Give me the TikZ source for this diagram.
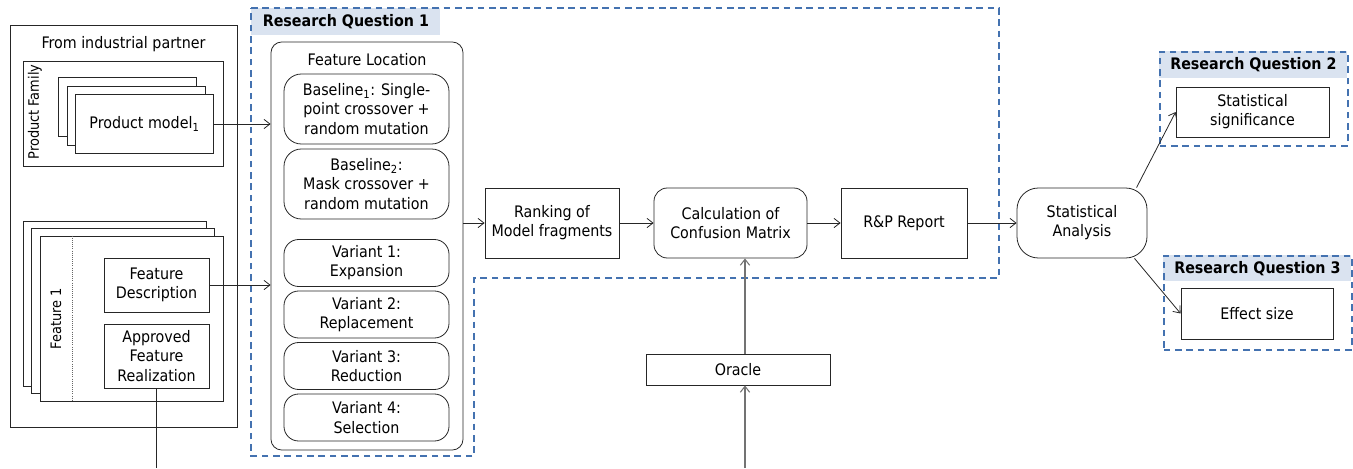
\documentclass[tikz,border=0pt]{standalone}
\usepackage{fontspec}
\setmainfont{DejaVu Sans Condensed}
\usetikzlibrary{arrows.meta}
\definecolor{rqblue}{RGB}{68,114,176}
\definecolor{rqfill}{RGB}{218,227,240}

\begin{document}
\begin{tikzpicture}[x=0.75pt,y=-0.75pt,
    font=\fontsize{11.9pt}{14.4pt}\selectfont,
    line width=0.6pt,
    sz/.style 2 args = {minimum width=#1*0.75pt,
        minimum height=#2*0.75pt},
    box/.style = {draw=black!85, fill=white, align=center,
        inner sep=1pt},
    rbox/.style = {box, rounded corners=#1},
    rbox/.default = 11pt,
    link/.style = {draw=black!85,
        -{Straight Barb[length=4.5pt,width=7pt]}},
    feed/.style = {link, draw=black!55, line width=0.8pt},
    rq/.style = {draw=rqblue, line width=1.2pt,
        dash pattern=on 5pt off 3.5pt},
    rqlabel/.style = {fill=rqfill, inner sep=0pt,
        font=\fontsize{11.9pt}{14pt}\selectfont\bfseries},
    sidetitle/.style = {rotate=90, inner sep=0pt}]

\useasboundingbox (0,0) rectangle (1353,468);

% From industrial partner
\node[box, sz={227}{402}] (partner) at (123.5,226) {};
\node (partnertitle) at (123.5,44) {From industrial partner};

% Product family
\node[box, sz={200}{105}] (family) at (123,113.5) {};
\node[sidetitle, font=\fontsize{10.8pt}{12pt}\selectfont] (familytitle) at (35,112)
    {Product Family};
\node[box, sz={138}{59}] (model3) at (127.5,107) {};
\node[box, sz={138}{59}] (model2) at (136,115.5) {};
\node[box, sz={138}{59}] (model1) at (144.5,124) {Product model\textsubscript{1}};

% Features
\node[box, sz={183}{165}] (feat3) at (115,304) {};
\node[box, sz={183}{165}] (feat2) at (123,311) {};
\node[box, sz={183}{165}] (feat1) at (131.5,318.5) {};
\draw[black!60, densely dotted]
    ([xshift=24.75pt]feat1.north west) -- ([xshift=24.75pt]feat1.south west);
\node[sidetitle, font=\fontsize{10.8pt}{12pt}\selectfont] (feattitle) at (56,318.5) {Feature 1};
\node[box, sz={105}{54}] (featdesc) at (156.5,285) {Feature\\Description};
\node[box, sz={105}{64}] (approved) at (156.5,356) {Approved\\Feature\\Realization};
\coordinate (approvedout) at (156.5,468);

% Research Question 1
\node[rqlabel, sz={189}{27}, anchor=north west] (rq1label) at (251,8) {Research Question 1};
\draw[rq] (251,8) -- (999,8) -- (999,278) -- (474,278) -- (474,456)
    -- (251,456) -- cycle;

% Feature location
\node[rbox=8pt, sz={192}{408}] (featloc) at (367,246) {};
\node (featloctitle) at (367,60) {Feature Location};
\node[rbox=13pt, sz={165}{70}] (base1) at (366.5,109)
    {Baseline\textsubscript{1}: Single-\\point crossover +\\random mutation};
\node[rbox=13pt, sz={165}{70}] (base2) at (366.5,184)
    {Baseline\textsubscript{2}:\\Mask crossover +\\random mutation};
\node[rbox, sz={165}{47}] (var1) at (366.5,263) {Variant 1:\\Expansion};
\node[rbox, sz={165}{47}] (var2) at (366.5,314.5) {Variant 2:\\Replacement};
\node[rbox, sz={165}{47}] (var3) at (366.5,366) {Variant 3:\\Reduction};
\node[rbox, sz={165}{47}] (var4) at (366.5,417.5) {Variant 4:\\Selection};

% Pipeline
\node[box, sz={134}{70}] (ranking) at (552,223) {Ranking of\\Model fragments};
\node[rbox=10pt, sz={153}{70}] (calc) at (730.5,223) {Calculation of\\Confusion Matrix};
\node[box, sz={126}{70}] (report) at (904,223) {R\&P Report};
\node[rbox=16pt, sz={130}{70}] (analysis) at (1082,223) {Statistical\\Analysis};
\node[box, sz={184}{31}] (oracle) at (738,369.5) {Oracle};
\coordinate (oraclein) at (745,468);

% Research Question 2
\node[rqlabel, sz={188}{27}, anchor=north west] (rq2label) at (1159,51) {Research Question 2};
\node[draw, rq, sz={188}{94}, anchor=north west] (rq2) at (1159,51) {};
\node[box, sz={153}{50}] (signif) at (1252.5,112) {Statistical\\significance};

% Research Question 3
\node[rqlabel, sz={188}{26}, anchor=north west] (rq3label) at (1163,255) {Research Question 3};
\node[draw, rq, sz={188}{94}, anchor=north west] (rq3) at (1163,255) {};
\node[box, sz={152}{51}] (effect) at (1257,313.5) {Effect size};

% Connectors
\draw[link] (model1.east) -- (model1.east -| featloc.west);
\draw[link] (featdesc.east) -- (featdesc.east -| featloc.west);
\draw[black!85] (approved.south) -- (approvedout);
\draw[link] (featloc.east |- ranking.west) -- (ranking.west);
\draw[link] (ranking) -- (calc);
\draw[link] (calc) -- (report);
\draw[link] (report) -- (analysis);
\draw[feed] (oraclein) -- (oraclein |- oracle.south);
\draw[feed] (oraclein |- oracle.north) -- (oraclein |- calc.south);
\draw[link] (analysis.33) -- (signif.west);
\draw[link] (analysis.-34) -- (effect.west);

\end{tikzpicture}
\end{document}
